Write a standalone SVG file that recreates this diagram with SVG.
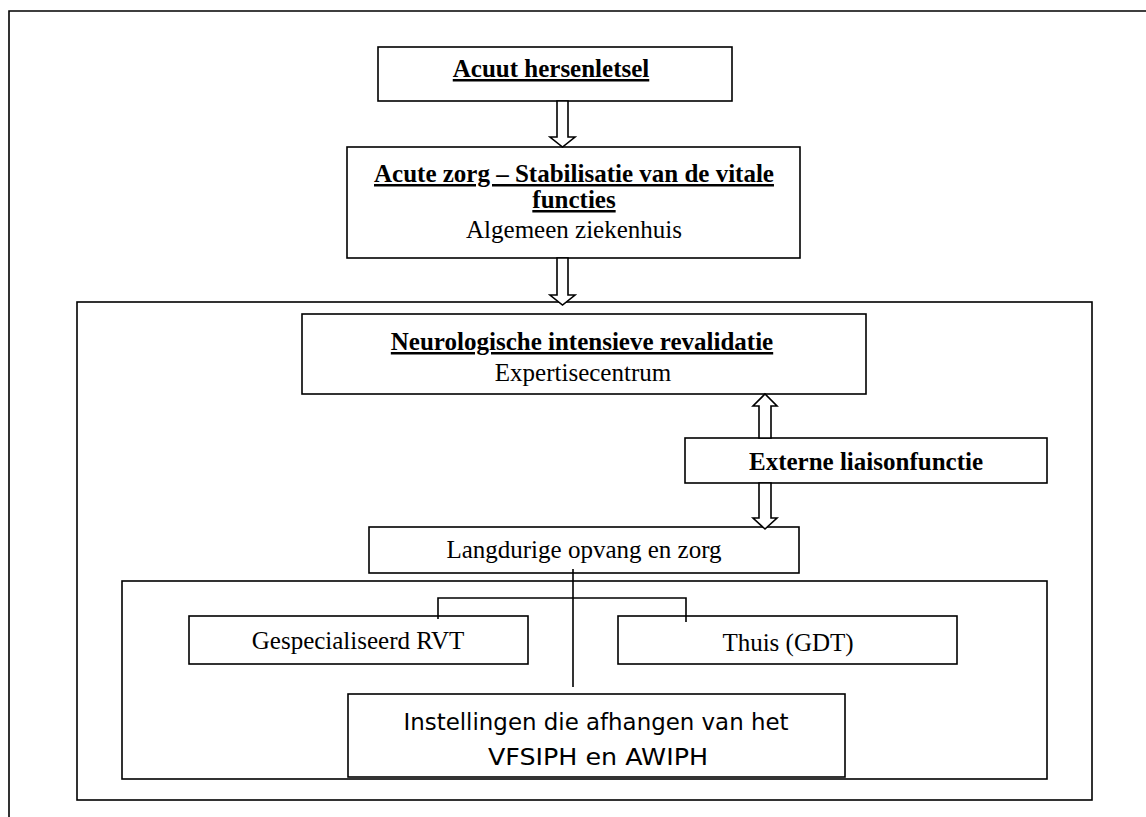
<svg xmlns="http://www.w3.org/2000/svg" width="1146" height="817" viewBox="0 0 1146 817">
<style>
.box{fill:#fff;stroke:#000;stroke-width:1.6}
.frame{fill:none;stroke:#000;stroke-width:1.6}
.t{font-family:"Liberation Serif","Times New Roman",serif;font-size:25px;fill:#000;text-anchor:middle}
.b{font-weight:bold}
.u{text-decoration:underline}
.c{font-family:"DejaVu Sans","Noto Sans",sans-serif;font-size:23px;fill:#000;text-anchor:middle}
.arr{fill:#fff;stroke:#000;stroke-width:1.6;stroke-linejoin:miter}
.ln{fill:none;stroke:#000;stroke-width:1.6}
</style>
<rect width="1146" height="817" fill="#fff"/>
<g id="page-frame">
<path class="frame" d="M9,817 V11 H1146" stroke="#222" stroke-width="2"/>
</g>
<g id="outer-container">
<rect class="frame" x="77" y="302" width="1015" height="498"/>
</g>
<g id="inner-container">
<rect class="frame" x="122" y="581" width="925" height="198"/>
</g>
<g id="node-acuut">
<rect class="box" x="378" y="47" width="354" height="54"/>
<text class="t b u" x="551" y="77">Acuut hersenletsel</text>
</g>
<g id="node-acute-zorg">
<rect class="box" x="347" y="147" width="453" height="111"/>
<text class="t b u" x="574" y="182">Acute zorg – Stabilisatie van de vitale</text>
<text class="t b u" x="574" y="208">functies</text>
<text class="t" x="574" y="238">Algemeen ziekenhuis</text>
</g>
<g id="node-neurologische">
<rect class="box" x="302" y="314" width="564" height="80"/>
<text class="t b u" x="582" y="350">Neurologische intensieve revalidatie</text>
<text class="t" x="583" y="381">Expertisecentrum</text>
</g>
<g id="node-externe">
<rect class="box" x="685" y="438" width="362" height="45"/>
<text class="t b" x="866" y="470">Externe liaisonfunctie</text>
</g>
<g id="node-langdurige">
<rect class="box" x="369" y="527" width="430" height="46"/>
<text class="t" x="584" y="558">Langdurige opvang en zorg</text>
</g>
<g id="node-gespecialiseerd">
<rect class="box" x="189" y="616" width="339" height="48"/>
<text class="t" x="358" y="649">Gespecialiseerd RVT</text>
</g>
<g id="node-thuis">
<rect class="box" x="618" y="616" width="339" height="48"/>
<text class="t" x="788" y="651">Thuis (GDT)</text>
</g>
<g id="node-instellingen">
<rect class="box" x="348" y="694" width="497" height="83"/>
<text class="c" x="596" y="730" textLength="385" lengthAdjust="spacingAndGlyphs">Instellingen die afhangen van het</text>
<text class="c" x="598" y="765" textLength="220" lengthAdjust="spacingAndGlyphs">VFSIPH en AWIPH</text>
</g>
<g id="connectors">
<path class="arr" d="M557,101 H568 V137 H575 L562.5,147 L550,137 H557 Z"/>
<path class="arr" d="M557,258 H568 V295 H575 L562.5,305 L550,295 H557 Z"/>
<path class="arr" d="M759,438 V406 H753 L765,394 L777,406 H771 V438 Z"/>
<path class="arr" d="M759,483 H771 V518 H777 L765,529 L753,518 H759 Z"/>
<path class="ln" d="M573,569 V687"/>
<path class="ln" d="M438,619 V598 H686 V622"/>
</g>
</svg>
